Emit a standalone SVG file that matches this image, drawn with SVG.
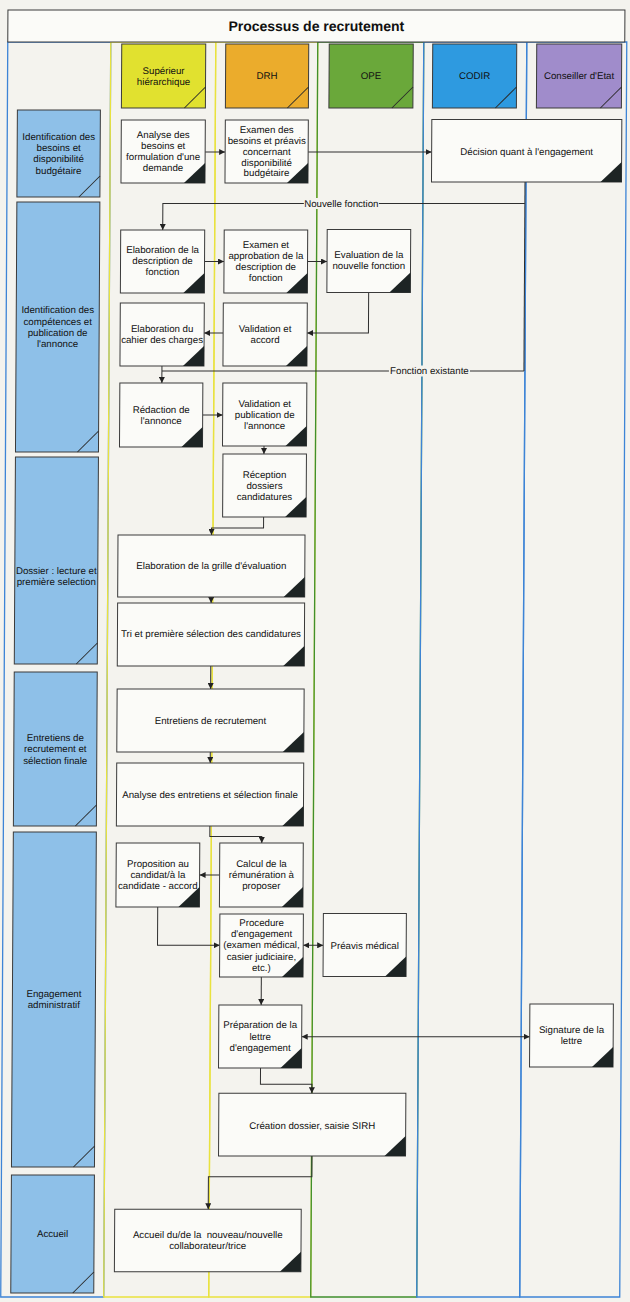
<svg xmlns="http://www.w3.org/2000/svg" width="630" height="1302" viewBox="0 0 630 1302">
<style>
text{font-family:"Liberation Sans",Arial,sans-serif;font-size:9.7px;fill:#111;text-anchor:middle}
.title{font-size:14px;font-weight:bold}
.box{fill:#fbfbf8;stroke:#3a3a3a;stroke-width:1}
.hdr{stroke:#3a3a3a;stroke-width:1}
.phase{fill:#8ec0e8;stroke:#3a3a3a;stroke-width:1}
.diag{stroke:#2a2a2a;stroke-width:1;fill:none}
.tri{fill:#1d2424}
.lane{fill:none;stroke-width:1.3}
.conn path{fill:none;stroke:#2e2e2e;stroke-width:1}
.lblbg{fill:#f4f3ee}
</style>
<defs>
<marker id="ah" viewBox="0 0 10 10" refX="10" refY="5" markerWidth="6" markerHeight="6" markerUnits="userSpaceOnUse" orient="auto-start-reverse"><path d="M0,0 L10,5 L0,10 z" fill="#222"/></marker>
</defs>
<rect x="0" y="0" width="630" height="1302" fill="#f4f3ee"/>
<g transform="matrix(1 0 -0.0056 1 0 0)">
<g id="lanes">
<rect class="lane" x="8" y="42" width="103" height="1255" stroke="#3d84d6"/>
<rect class="lane" x="111" y="42" width="105" height="1255" stroke="#e9e23e"/>
<rect class="lane" x="216" y="42" width="102" height="1255" stroke="#e9e23e"/>
<rect class="lane" x="318" y="42" width="106" height="1255" stroke="#3f8f2c"/>
<rect class="lane" x="424" y="42" width="103" height="1255" stroke="#3d84d6"/>
<rect class="lane" x="527" y="42" width="100" height="1255" stroke="#3d84d6"/>
</g>
<g id="title">
<rect x="8" y="10" width="617" height="32" fill="#fbfbf8" stroke="#3a3a3a"/>
<text class="title" x="316.5" y="31">Processus de recrutement</text>
</g>
<g id="h-sup"><rect class="hdr" x="122" y="44" width="84" height="64" fill="#e1e12f"/><path class="diag" d="M185,108 L206,87"/><text x="164" y="73.9">Supérieur</text><text x="164" y="84.9">hiérarchique</text></g>
<g id="h-drh"><rect class="hdr" x="226" y="44" width="83" height="64" fill="#ebac2c"/><path class="diag" d="M288,108 L309,87"/><text x="267.5" y="79.4">DRH</text></g>
<g id="h-ope"><rect class="hdr" x="329.5" y="44" width="84" height="64" fill="#6aa83a"/><path class="diag" d="M392.5,108 L413.5,87"/><text x="371.5" y="79.4">OPE</text></g>
<g id="h-codir"><rect class="hdr" x="433" y="44" width="84" height="64" fill="#2e9ae0"/><path class="diag" d="M496,108 L517,87"/><text x="475" y="79.4">CODIR</text></g>
<g id="h-ce"><rect class="hdr" x="537" y="44" width="85" height="64" fill="#a08ccb"/><path class="diag" d="M601,108 L622,87"/><text x="579.5" y="79.4">Conseiller d'Etat</text></g>

<g id="p1"><rect class="phase" x="18" y="110" width="83" height="87"/><path class="diag" d="M80,197 L101,176"/><text x="59.5" y="139.9">Identification des</text><text x="59.5" y="151.2">besoins et</text><text x="59.5" y="162.5">disponibilité</text><text x="59.5" y="173.8">budgétaire</text></g>
<g id="p2"><rect class="phase" x="18" y="202" width="83" height="250"/><path class="diag" d="M80,452 L101,431"/><text x="59.5" y="313.4">Identification des</text><text x="59.5" y="324.7">compétences et</text><text x="59.5" y="336">publication de</text><text x="59.5" y="347.3">l'annonce</text></g>
<g id="p3"><rect class="phase" x="18" y="457" width="83" height="207"/><path class="diag" d="M80,664 L101,643"/><text x="59.5" y="574.4">Dossier : lecture et</text><text x="59.5" y="585.4">première selection</text></g>
<g id="p4"><rect class="phase" x="18" y="672" width="83" height="154"/><path class="diag" d="M80,826 L101,805"/><text x="59.5" y="741.1">Entretiens de</text><text x="59.5" y="752.4">recrutement et</text><text x="59.5" y="763.7">sélection finale</text></g>
<g id="p5"><rect class="phase" x="18" y="832" width="83" height="335"/><path class="diag" d="M80,1167 L101,1146"/><text x="59.5" y="997.5">Engagement</text><text x="59.5" y="1008.5">administratif</text></g>
<g id="p6"><rect class="phase" x="18" y="1175" width="83" height="118"/><path class="diag" d="M80,1293 L101,1272"/><text x="59.5" y="1237.4">Accueil</text></g>

<g id="connectors" class="conn">
<path d="M206,152 H226" marker-end="url(#ah)"/>
<path d="M309,152 H432.5" marker-end="url(#ah)"/>
<path d="M526,182 V371"/>
<path d="M526,203.5 H164 V230" marker-end="url(#ah)"/>
<path d="M206,261.5 H225.5" marker-end="url(#ah)"/>
<path d="M309,261.5 H328.5" marker-end="url(#ah)"/>
<path d="M370.3,292.5 V333 H309" marker-end="url(#ah)"/>
<path d="M225,333 H206" marker-end="url(#ah)"/>
<path d="M526,371 H164"/>
<path d="M164,366 V383" marker-end="url(#ah)"/>
<path d="M205,415 H225" marker-end="url(#ah)"/>
<path d="M266.5,446 V454" marker-end="url(#ah)"/>
<path d="M266.5,517 V528 H214.5 V535" marker-end="url(#ah)"/>
<path d="M214.5,597 V603" marker-end="url(#ah)"/>
<path d="M214.5,666 V689" marker-end="url(#ah)"/>
<path d="M214.5,752 V763" marker-end="url(#ah)"/>
<path d="M214.5,826 V836.5 H266.5 V843" marker-end="url(#ah)"/>
<path d="M224.5,875 H204.5" marker-end="url(#ah)"/>
<path d="M162.8,907 V945.3 H225" marker-end="url(#ah)"/>
<path d="M308.5,945.3 H328.5" marker-start="url(#ah)" marker-end="url(#ah)"/>
<path d="M266.8,977 V1005" marker-end="url(#ah)"/>
<path d="M307.5,1036.7 H535.5" marker-start="url(#ah)" marker-end="url(#ah)"/>
<path d="M266.5,1068 V1084.3 H318 V1093.3" marker-end="url(#ah)"/>
<path d="M318.5,1156 V1176.7 H215 V1209.3" marker-end="url(#ah)"/>
<rect class="lblbg" x="305" y="198" width="75" height="11"/>
<text x="342.5" y="206.7">Nouvelle fonction</text>
<rect class="lblbg" x="391" y="365.5" width="81" height="11"/>
<text x="431.5" y="374.3">Fonction existante</text>
</g>

<g id="n-a1"><rect class="box" x="122" y="120" width="84" height="63"/><path class="tri" d="M206,163 V183 H185 Z"/><text x="164" y="138.4">Analyse des</text><text x="164" y="149.4">besoins et</text><text x="164" y="160.4">formulation d'une</text><text x="164" y="171.4">demande</text></g>
<g id="n-a2"><rect class="box" x="226" y="120" width="83" height="63"/><path class="tri" d="M309,163 V183 H288 Z"/><text x="267.5" y="133.3">Examen des</text><text x="267.5" y="144.1">besoins et préavis</text><text x="267.5" y="154.9">concernant</text><text x="267.5" y="165.7">disponibilité</text><text x="267.5" y="176.5">budgétaire</text></g>
<g id="n-a3"><rect class="box" x="432.5" y="119.5" width="190" height="62.5"/><path class="tri" d="M622.5,162 V182 H601.5 Z"/><text x="527.5" y="155">Décision quant à l'engagement</text></g>
<g id="n-b1"><rect class="box" x="122" y="230" width="84" height="63"/><path class="tri" d="M206,273 V293 H185 Z"/><text x="164" y="253.4">Elaboration de la</text><text x="164" y="264.4">description de</text><text x="164" y="275.4">fonction</text></g>
<g id="n-b2"><rect class="box" x="225.5" y="230" width="83.5" height="63"/><path class="tri" d="M309,273 V293 H288 Z"/><text x="267.3" y="248.4">Examen et</text><text x="267.3" y="259.4">approbation de la</text><text x="267.3" y="270.4">description de</text><text x="267.3" y="281.4">fonction</text></g>
<g id="n-b3"><rect class="box" x="328.5" y="229.5" width="83.5" height="63"/><path class="tri" d="M412,272.5 V292.5 H391 Z"/><text x="370.3" y="258.4">Evaluation de la</text><text x="370.3" y="269.4">nouvelle fonction</text></g>
<g id="n-b4"><rect class="box" x="122" y="303" width="84" height="63"/><path class="tri" d="M206,346 V366 H185 Z"/><text x="164" y="331.7">Elaboration du</text><text x="164" y="342.7">cahier des charges</text></g>
<g id="n-b5"><rect class="box" x="225" y="303" width="84" height="63"/><path class="tri" d="M309,346 V366 H288 Z"/><text x="267" y="331.7">Validation et</text><text x="267" y="342.7">accord</text></g>
<g id="n-c1"><rect class="box" x="122" y="383" width="83" height="64"/><path class="tri" d="M205,427 V447 H184 Z"/><text x="163.5" y="413.4">Rédaction de</text><text x="163.5" y="424.4">l'annonce</text></g>
<g id="n-c2"><rect class="box" x="225" y="383" width="84" height="63"/><path class="tri" d="M309,426 V446 H288 Z"/><text x="267" y="407.4">Validation et</text><text x="267" y="418.4">publication de</text><text x="267" y="429.4">l'annonce</text></g>
<g id="n-c3"><rect class="box" x="225.5" y="454" width="83.5" height="63"/><path class="tri" d="M309,497 V517 H288 Z"/><text x="267.2" y="477.7">Réception</text><text x="267.2" y="489">dossiers</text><text x="267.2" y="500">candidatures</text></g>
<g id="n-d1"><rect class="box" x="121" y="535" width="187" height="62"/><path class="tri" d="M308,577 V597 H287 Z"/><text x="214.5" y="569.4">Elaboration de la grille d'évaluation</text></g>
<g id="n-d2"><rect class="box" x="121" y="603" width="187" height="63"/><path class="tri" d="M308,646 V666 H287 Z"/><text x="214.5" y="637.4">Tri et première sélection des candidatures</text></g>
<g id="n-e1"><rect class="box" x="121" y="689" width="187" height="63"/><path class="tri" d="M308,732 V752 H287 Z"/><text x="214.5" y="724.4">Entretiens de recrutement</text></g>
<g id="n-e2"><rect class="box" x="121" y="763" width="187" height="63"/><path class="tri" d="M308,806 V826 H287 Z"/><text x="214.5" y="797.7">Analyse des entretiens et sélection finale</text></g>
<g id="n-f1"><rect class="box" x="121" y="843" width="83.5" height="64"/><path class="tri" d="M204.5,887 V907 H183.5 Z"/><text x="162.8" y="867.4">Proposition au</text><text x="162.8" y="878.4">candidat/à la</text><text x="162.8" y="889.4">candidate - accord</text></g>
<g id="n-f2"><rect class="box" x="224.5" y="843" width="83.5" height="64"/><path class="tri" d="M308,887 V907 H287 Z"/><text x="266.3" y="867.4">Calcul de la</text><text x="266.3" y="878.4">rémunération à</text><text x="266.3" y="889.4">proposer</text></g>
<g id="n-f3"><rect class="box" x="225" y="914" width="83.5" height="63"/><path class="tri" d="M308.5,957 V977 H287.5 Z"/><text x="266.8" y="925.7">Procedure</text><text x="266.8" y="937">d'engagement</text><text x="266.8" y="948.3">(examen médical,</text><text x="266.8" y="959.6">casier judiciaire,</text><text x="266.8" y="970.9">etc.)</text></g>
<g id="n-f4"><rect class="box" x="328.5" y="913.5" width="83" height="63"/><path class="tri" d="M411.5,956.5 V976.5 H390.5 Z"/><text x="370" y="948.7">Préavis médical</text></g>
<g id="n-g1"><rect class="box" x="224.5" y="1005" width="83" height="63"/><path class="tri" d="M307.5,1048 V1068 H286.5 Z"/><text x="266" y="1028.4">Préparation de la</text><text x="266" y="1039.7">lettre</text><text x="266" y="1050.7">d'engagement</text></g>
<g id="n-g2"><rect class="box" x="535.5" y="1004" width="83.5" height="63"/><path class="tri" d="M619,1047 V1067 H598 Z"/><text x="577.3" y="1033.4">Signature de la</text><text x="577.3" y="1044.4">lettre</text></g>
<g id="n-h1"><rect class="box" x="225" y="1093.3" width="187" height="62.7"/><path class="tri" d="M412,1136 V1156 H391 Z"/><text x="318.5" y="1129.4">Création dossier, saisie SIRH</text></g>
<g id="n-i1"><rect class="box" x="121.5" y="1209.3" width="186.5" height="62.4"/><path class="tri" d="M308,1251.7 V1271.7 H287 Z"/><text x="214.7" y="1238.4" xml:space="preserve">Accueil du/de la  nouveau/nouvelle</text><text x="214.7" y="1249.4">collaborateur/trice</text></g>
</g>
</svg>
